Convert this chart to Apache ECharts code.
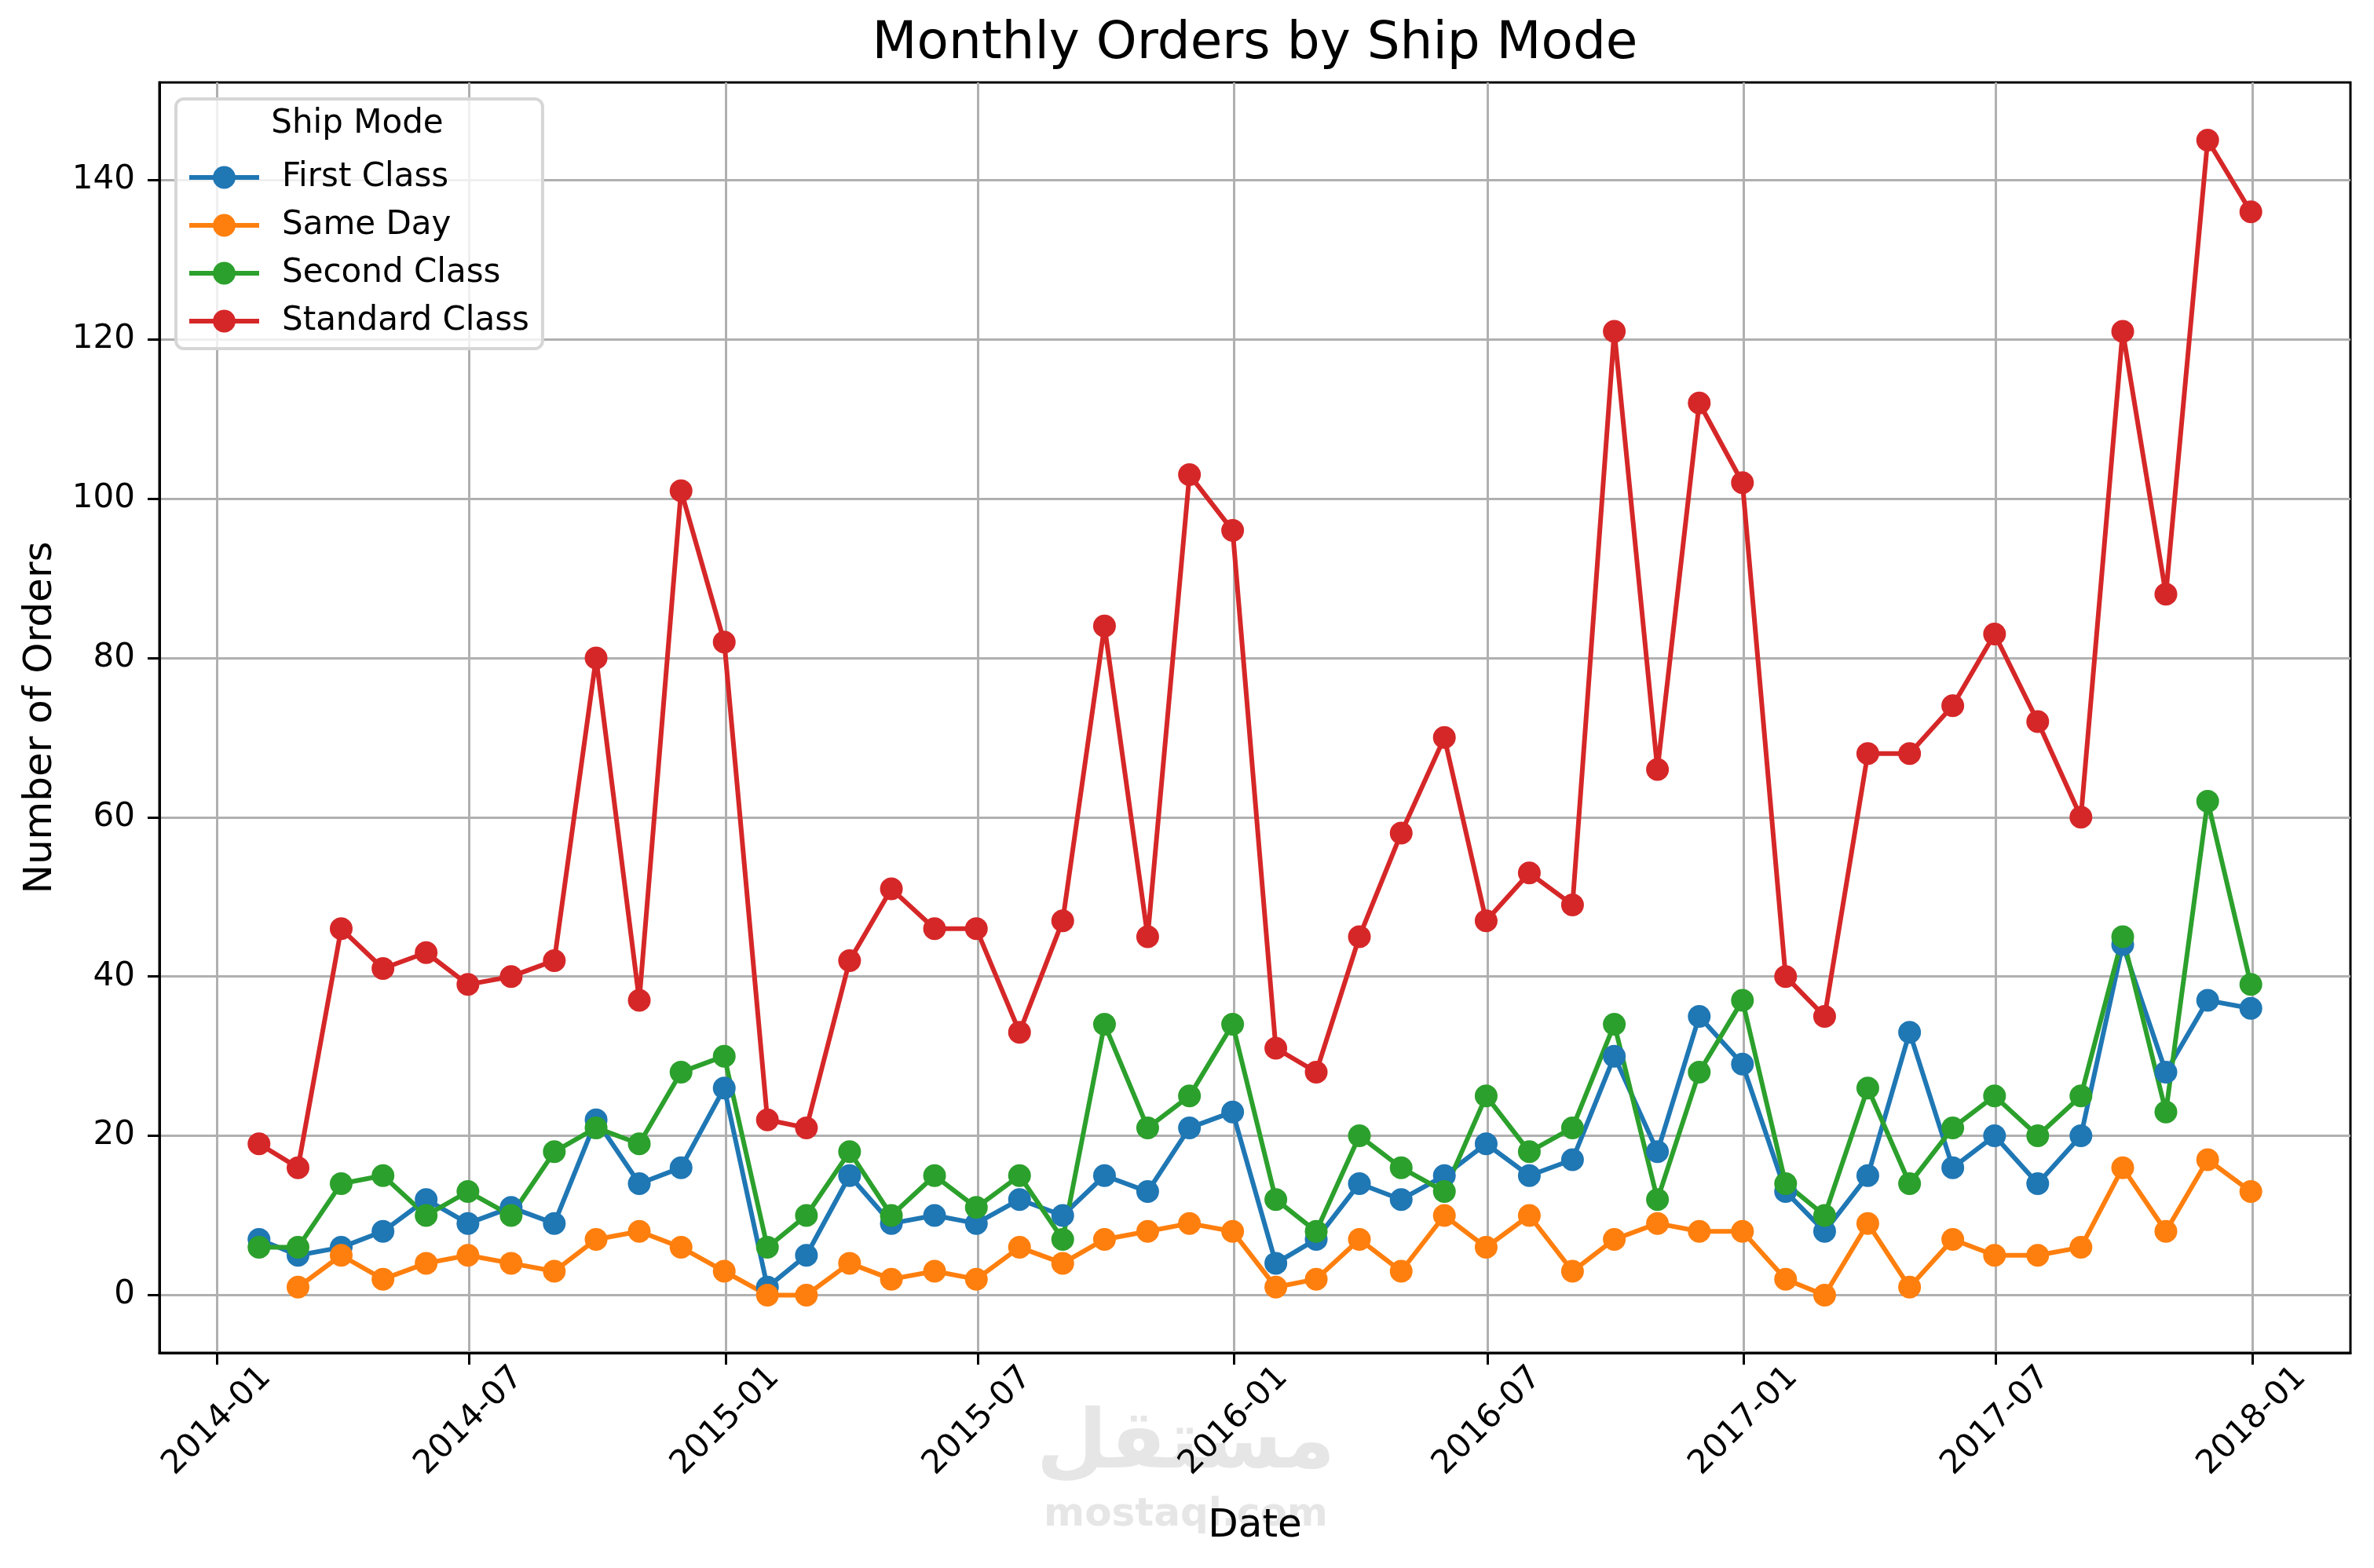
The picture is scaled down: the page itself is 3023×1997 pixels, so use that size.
<!DOCTYPE html>
<html>
<head>
<meta charset="utf-8">
<title>Monthly Orders by Ship Mode</title>
<script src="https://cdn.jsdelivr.net/npm/echarts@6/dist/echarts.min.js"></script>
<style>
    html, body { margin: 0; padding: 0; background: #fff; }
    #main { width: 3023px; height: 1997px; }
</style>
</head>
<body>
<div id="main"></div>
<script>
    // month-end dates (monthly resample)
    var months = [
        '2014-01-31', '2014-02-28', '2014-03-31', '2014-04-30', '2014-05-31', '2014-06-30',
        '2014-07-31', '2014-08-31', '2014-09-30', '2014-10-31', '2014-11-30', '2014-12-31',
        '2015-01-31', '2015-02-28', '2015-03-31', '2015-04-30', '2015-05-31', '2015-06-30',
        '2015-07-31', '2015-08-31', '2015-09-30', '2015-10-31', '2015-11-30', '2015-12-31',
        '2016-01-31', '2016-02-29', '2016-03-31', '2016-04-30', '2016-05-31', '2016-06-30',
        '2016-07-31', '2016-08-31', '2016-09-30', '2016-10-31', '2016-11-30', '2016-12-31',
        '2017-01-31', '2017-02-28', '2017-03-31', '2017-04-30', '2017-05-31', '2017-06-30',
        '2017-07-31', '2017-08-31', '2017-09-30', '2017-10-31', '2017-11-30', '2017-12-31'
    ];

    var firstClass = [7, 5, 6, 8, 12, 9, 11, 9, 22, 14, 16, 26,
        1, 5, 15, 9, 10, 9, 12, 10, 15, 13, 21, 23,
        4, 7, 14, 12, 15, 19, 15, 17, 30, 18, 35, 29,
        13, 8, 15, 33, 16, 20, 14, 20, 44, 28, 37, 36];

    // no Same Day orders recorded for January 2014
    var sameDay = [null, 1, 5, 2, 4, 5, 4, 3, 7, 8, 6, 3,
        0, 0, 4, 2, 3, 2, 6, 4, 7, 8, 9, 8,
        1, 2, 7, 3, 10, 6, 10, 3, 7, 9, 8, 8,
        2, 0, 9, 1, 7, 5, 5, 6, 16, 8, 17, 13];

    var secondClass = [6, 6, 14, 15, 10, 13, 10, 18, 21, 19, 28, 30,
        6, 10, 18, 10, 15, 11, 15, 7, 34, 21, 25, 34,
        12, 8, 20, 16, 13, 25, 18, 21, 34, 12, 28, 37,
        14, 10, 26, 14, 21, 25, 20, 25, 45, 23, 62, 39];

    var standardClass = [19, 16, 46, 41, 43, 39, 40, 42, 80, 37, 101, 82,
        22, 21, 42, 51, 46, 46, 33, 47, 84, 45, 103, 96,
        31, 28, 45, 58, 70, 47, 53, 49, 121, 66, 112, 102,
        40, 35, 68, 68, 74, 83, 72, 60, 121, 88, 145, 136];

    var xTickLabels = ['2014-01', '2014-07', '2015-01', '2015-07', '2016-01',
        '2016-07', '2017-01', '2017-07', '2018-01'];
    var yTicks = [0, 20, 40, 60, 80, 100, 120, 140];

    var seriesNames = ['First Class', 'Same Day', 'Second Class', 'Standard Class'];
    var seriesData = [firstClass, sameDay, secondClass, standardClass];
    var colors = ['#1f77b4', '#ff7f0e', '#2ca02c', '#d62728'];

    var FONT = 'DejaVu Sans';

    // x is a plain value axis in epoch ms so the ticks can sit on the 1st of the month
    var times = months.map(function (m) { return +echarts.time.parse(m); });
    var t0 = times[0];
    var t1 = times[times.length - 1];
    var pad = (t1 - t0) * 0.05;
    var xTickValues = xTickLabels.map(function (s) {
        return +echarts.time.parse(s + '-01');
    });

    var series = seriesNames.map(function (name, k) {
        return {
            name: name,
            type: 'line',
            symbol: 'circle',
            symbolSize: 29,
            showSymbol: true,
            clip: false,
            lineStyle: { width: 6, color: colors[k] },
            itemStyle: { color: colors[k] },
            emphasis: { disabled: true },
            data: times.map(function (t, i) {
                return [t, seriesData[k][i]];
            })
        };
    });

    var chart = echarts.init(document.getElementById('main'));
    chart.setOption({
        animation: false,
        backgroundColor: '#ffffff',
        textStyle: { fontFamily: FONT },
        color: colors,
        title: [{
            text: 'Monthly Orders by Ship Mode',
            left: 1598,
            top: 24,
            padding: 0,
            textAlign: 'center',
            textStyle: { fontFamily: FONT, fontSize: 66, fontWeight: 'normal', color: '#000' }
        }, {
            text: 'Ship Mode',
            left: 455,
            top: 137,
            padding: 0,
            textAlign: 'center',
            z: 10,
            textStyle: { fontFamily: FONT, fontSize: 42, fontWeight: 'normal', color: '#000' }
        }],
        legend: {
            orient: 'vertical',
            left: 224,
            top: 126,
            padding: [79, 17, 14, 14],
            itemGap: 19,
            itemWidth: 89,
            itemHeight: 36,
            selectedMode: false,
            backgroundColor: 'rgba(255,255,255,0.8)',
            borderColor: '#d6d6d6',
            borderWidth: 4,
            borderRadius: 10,
            lineStyle: { width: 6 },
            textStyle: { fontFamily: FONT, fontSize: 42, color: '#000', padding: [0, 0, 0, 24] },
            data: seriesNames
        },
        grid: {
            left: 203,
            right: 30,
            top: 105,
            bottom: 274,
            containLabel: false,
            show: true,
            borderColor: '#000',
            borderWidth: 3
        },
        xAxis: {
            type: 'value',
            min: t0 - pad,
            max: t1 + pad,
            name: 'Date',
            nameLocation: 'middle',
            nameGap: 196,
            nameTextStyle: { fontFamily: FONT, fontSize: 50, color: '#000' },
            axisLine: { show: true, onZero: false, lineStyle: { color: '#000', width: 3 } },
            axisTick: { show: true, length: 15, customValues: xTickValues, lineStyle: { color: '#000', width: 3 } },
            axisLabel: {
                customValues: xTickValues,
                rotate: 45,
                margin: 87,
                align: 'center',
                verticalAlign: 'middle',
                fontFamily: FONT,
                fontSize: 42,
                color: '#000',
                formatter: function (v) {
                    return echarts.time.format(v, '{yyyy}-{MM}', false);
                }
            },
            splitLine: { show: true, lineStyle: { color: '#b0b0b0', width: 3 } }
        },
        yAxis: {
            type: 'value',
            min: -7.25,
            max: 152.25,
            name: 'Number of Orders',
            nameLocation: 'middle',
            nameGap: 126,
            nameTextStyle: { fontFamily: FONT, fontSize: 50, color: '#000' },
            axisLine: { show: true, onZero: false, lineStyle: { color: '#000', width: 3 } },
            axisTick: { show: true, length: 15, customValues: yTicks, lineStyle: { color: '#000', width: 3 } },
            axisLabel: {
                customValues: yTicks,
                margin: 31,
                fontFamily: FONT,
                fontSize: 42,
                color: '#000'
            },
            splitLine: { show: true, lineStyle: { color: '#b0b0b0', width: 3 } }
        },
        graphic: [{
            type: 'text',
            x: 1510,
            y: 1842,
            z: -10,
            silent: true,
            style: {
                text: 'مستقل',
                font: 'bold 104px "DejaVu Sans"',
                fill: '#e6e6e6',
                align: 'center',
                verticalAlign: 'middle'
            }
        }, {
            type: 'text',
            x: 1510,
            y: 1930,
            z: -10,
            silent: true,
            style: {
                text: 'mostaql.com',
                font: 'bold 50px "DejaVu Sans"',
                fill: '#e6e6e6',
                align: 'center',
                verticalAlign: 'middle'
            }
        }],
        series: series
    });
</script>
</body>
</html>
